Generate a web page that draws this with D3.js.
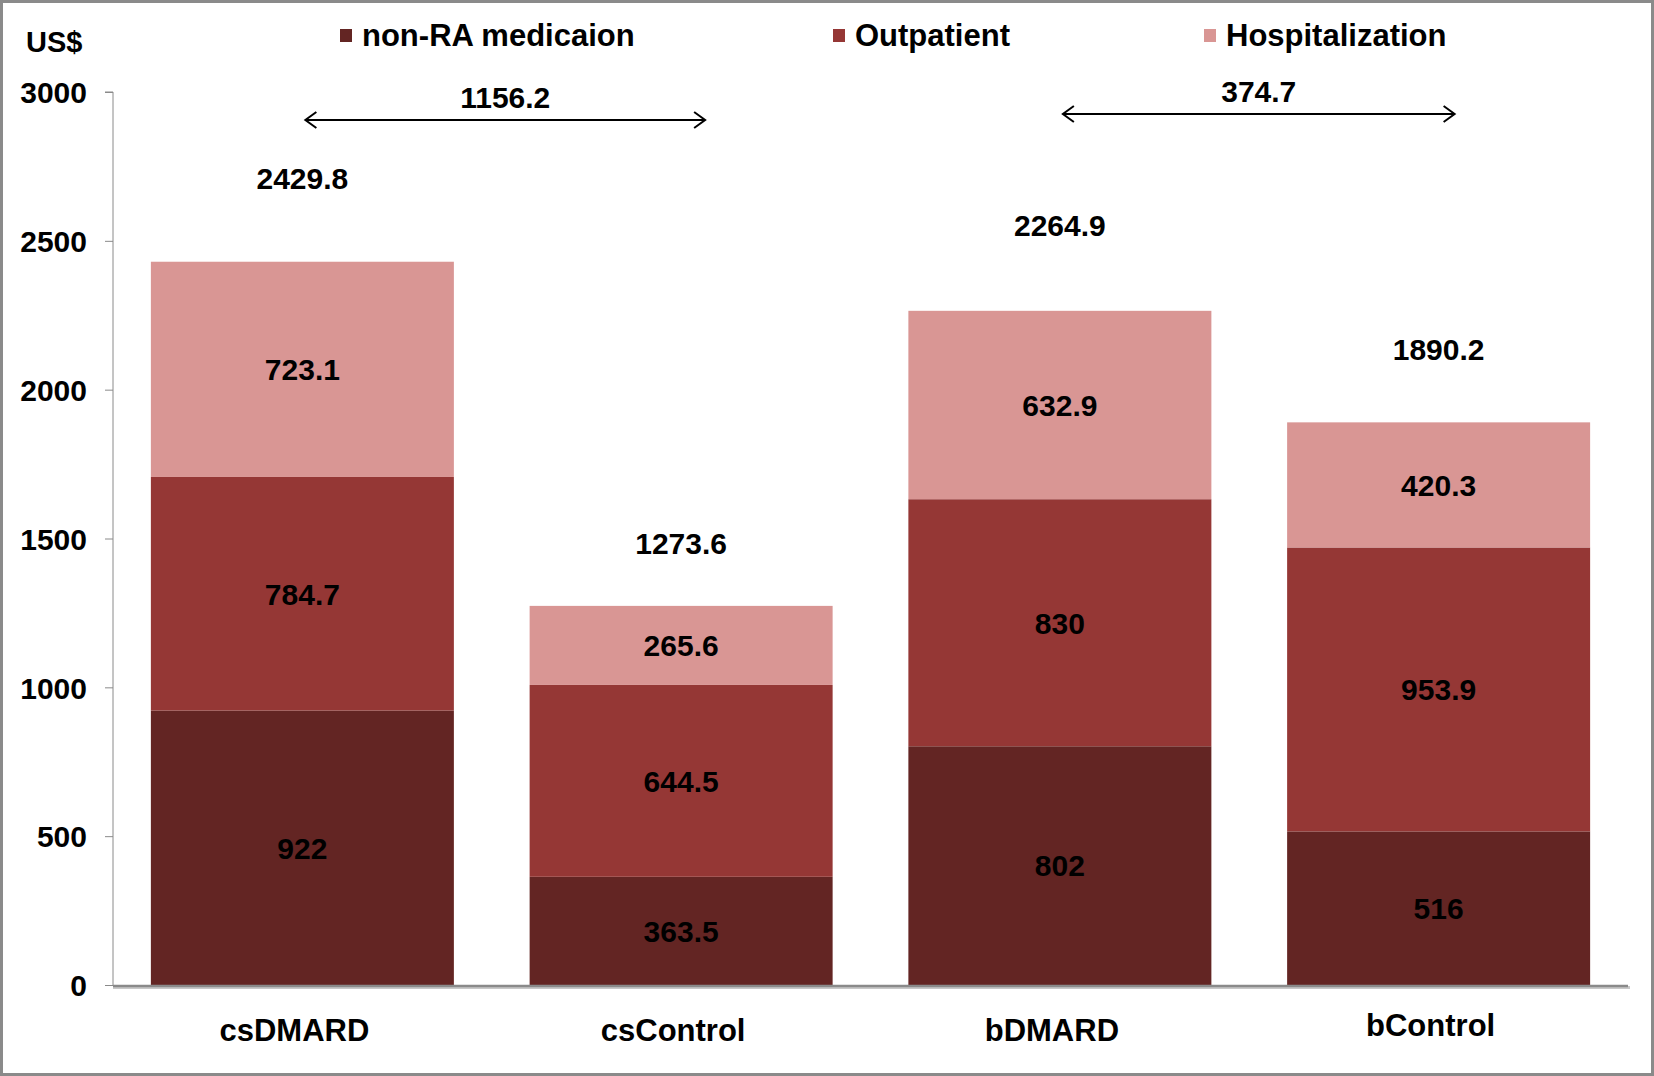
<!DOCTYPE html>
<html>
<head>
<meta charset="utf-8">
<script src="https://cdn.jsdelivr.net/npm/d3@7"></script>
<style>
  body { margin: 0; background: #fff; }
  text { font-family: "Liberation Sans", Arial, sans-serif; font-weight: bold; fill: #000; }
</style>
</head>
<body>
<div class="chart"></div>
<script>
// data
var categories = ["csDMARD", "csControl", "bDMARD", "bControl"];
var seriesNames = ["non-RA medicaion", "Outpatient", "Hospitalization"];
var nonRA = [922, 363.5, 802, 516];
var outpatient = [784.7, 644.5, 830, 953.9];
var hospitalization = [723.1, 265.6, 632.9, 420.3];
var totals = [2429.8, 1273.6, 2264.9, 1890.2];
var yTicks = [0, 500, 1000, 1500, 2000, 2500, 3000];
var comparisons = [["csDMARD", "csControl"], ["bDMARD", "bControl"]];

// layout
var width = 1654, height = 1076;
var margin = {top: 92, left: 113, right: 26, bottom: 89};
var colors = ["#632523", "#953735", "#d99694"];
var totalOffsets = [84, 63, 86, 73];   // gap above each bar top
var arrowY = [120, 114];
var arrowExtra = [24, 16];

var svg = d3.select(".chart").append("svg")
    .attr("width", width)
    .attr("height", height);

svg.append("rect")
    .attr("x", 1.5).attr("y", 1.5)
    .attr("width", width - 3).attr("height", height - 3)
    .attr("fill", "#fff")
    .attr("stroke", "#8a8a8a")
    .attr("stroke-width", 3);

var xScale = d3.scaleBand()
    .domain(categories)
    .range([margin.left, width - margin.right])
    .paddingInner(0.2)
    .paddingOuter(0.1);

var yScale = d3.scaleLinear()
    .domain([0, 3000])
    .range([height - margin.bottom - 2, margin.top]);

// stacked data
var rows = categories.map(function(c, i) {
    return {cat: c, "non-RA medicaion": nonRA[i], "Outpatient": outpatient[i], "Hospitalization": hospitalization[i]};
});
var stacked = d3.stack().keys(seriesNames)(rows);

// y axis
var yAxis = d3.axisLeft(yScale)
    .tickValues(yTicks)
    .tickFormat(d3.format("d"))
    .tickSize(8)
    .tickPadding(18);

var gy = svg.append("g")
    .attr("class", "axis y-axis")
    .attr("transform", "translate(" + margin.left + ",0)")
    .call(yAxis);
gy.select(".domain").attr("stroke", "#8a8a8a").attr("d", "M-8," + yScale(3000) + "H0V" + yScale(0));
gy.selectAll(".tick line").attr("stroke", "#8a8a8a");
gy.selectAll(".tick text")
    .style("font-size", "30px")
    .attr("font-family", null)
    .attr("dy", "0.36em");

svg.append("text")
    .attr("x", 26).attr("y", 52)
    .style("font-size", "29px")
    .text("US$");

// bars
var layer = svg.selectAll(".layer")
    .data(stacked)
    .enter().append("g")
    .attr("class", "layer")
    .attr("fill", function(d, i) { return colors[i]; });

layer.selectAll("rect")
    .data(function(d) { return d; })
    .enter().append("rect")
    .attr("x", function(d) { return xScale(d.data.cat); })
    .attr("y", function(d) { return yScale(d[1]); })
    .attr("height", function(d) { return yScale(d[0]) - yScale(d[1]); })
    .attr("width", xScale.bandwidth());

layer.selectAll(".seg-label")
    .data(function(d) { return d; })
    .enter().append("text")
    .attr("class", "seg-label")
    .attr("text-anchor", "middle")
    .attr("x", function(d) { return xScale(d.data.cat) + xScale.bandwidth() / 2; })
    .attr("y", function(d) { return (yScale(d[0]) + yScale(d[1])) / 2; })
    .attr("dy", "0.36em")
    .style("font-size", "30px")
    .text(function(d) { return String(+(d[1] - d[0]).toFixed(1)); });

// x axis line
svg.append("line")
    .attr("x1", margin.left).attr("x2", width - margin.right + 2)
    .attr("y1", yScale(0) + 2.5).attr("y2", yScale(0) + 2.5)
    .attr("stroke", "#c8c8c8").attr("stroke-width", 3);
svg.append("line")
    .attr("x1", margin.left).attr("x2", width - margin.right)
    .attr("y1", yScale(0) + 1).attr("y2", yScale(0) + 1)
    .attr("stroke", "#8a8a8a").attr("stroke-width", 2.5);

// category labels
svg.selectAll(".cat-label")
    .data(categories)
    .enter().append("text")
    .attr("class", "cat-label")
    .attr("text-anchor", "middle")
    .attr("x", function(d) { return xScale(d) + xScale.bandwidth() / 2 - 8; })
    .attr("y", function(d, i) { return i === 3 ? 1036 : 1041; })
    .style("font-size", "31px")
    .text(function(d) { return d; });

// totals
svg.selectAll(".total-label")
    .data(totals)
    .enter().append("text")
    .attr("class", "total-label")
    .attr("text-anchor", "middle")
    .attr("x", function(d, i) { return xScale(categories[i]) + xScale.bandwidth() / 2; })
    .attr("y", function(d, i) { return yScale(d) - totalOffsets[i]; })
    .attr("dy", "0.36em")
    .style("font-size", "30px")
    .text(function(d) { return d; });

// difference arrows
comparisons.forEach(function(pair, i) {
    var a = categories.indexOf(pair[0]), b = categories.indexOf(pair[1]);
    var x1 = xScale(pair[0]) + xScale.bandwidth() / 2 + 3;
    var x2 = xScale(pair[1]) + xScale.bandwidth() / 2 + arrowExtra[i];
    var y = arrowY[i];
    var g = svg.append("g").attr("fill", "none").attr("stroke", "#000").attr("stroke-width", 2);
    g.append("line").attr("x1", x1).attr("x2", x2).attr("y1", y).attr("y2", y);
    g.append("path").attr("d", "M" + (x1 + 11) + "," + (y - 8) + "L" + x1 + "," + y + "L" + (x1 + 11) + "," + (y + 8));
    g.append("path").attr("d", "M" + (x2 - 11) + "," + (y - 8) + "L" + x2 + "," + y + "L" + (x2 - 11) + "," + (y + 8));
    svg.append("text")
        .attr("text-anchor", "middle")
        .attr("x", (x1 + x2) / 2)
        .attr("y", y - 12)
        .style("font-size", "30px")
        .text((totals[a] - totals[b]).toFixed(1));
});

// legend
var legendX = [340, 833, 1204];
var legend = svg.selectAll(".legend")
    .data(seriesNames)
    .enter().append("g")
    .attr("class", "legend")
    .attr("transform", function(d, i) { return "translate(" + legendX[i] + ",0)"; });

legend.append("rect")
    .attr("x", 0).attr("y", 29)
    .attr("width", 12).attr("height", 13)
    .attr("fill", function(d, i) { return colors[i]; });

legend.append("text")
    .attr("x", 22).attr("y", 46)
    .style("font-size", "31px")
    .text(function(d) { return d; });
</script>
</body>
</html>
